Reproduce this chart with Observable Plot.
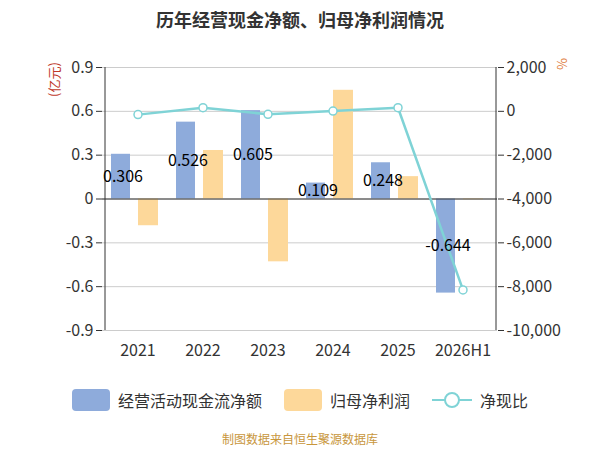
<!DOCTYPE html>
<html><head><meta charset="utf-8">
<script src="https://cdn.jsdelivr.net/npm/d3@7"></script>
<script src="https://cdn.jsdelivr.net/npm/@observablehq/plot@0.6"></script>
<style>
body{margin:0;width:600px;height:450px;background:#fff;font-family:"Noto Sans CJK SC",sans-serif;position:relative}
#title{height:50px;line-height:38px;text-align:center;font-weight:bold;font-size:18px;color:#333}
#legend{position:absolute;top:388px;left:0;width:600px;display:flex;justify-content:center;gap:22px;font-size:16px;color:#333;align-items:center}
.it{display:flex;align-items:center;gap:8px}
.sw{width:38px;height:22px;border-radius:4px}
#cap{position:absolute;top:430px;width:600px;text-align:center;font-size:12px;color:#c8963c}
#yl{position:absolute;left:36px;top:70px;color:#c0392b;font-size:13px;transform:rotate(-90deg);transform-origin:center}
#yr{position:absolute;left:553px;top:58px;color:#e07b39;font-size:13px;writing-mode:vertical-rl}
</style></head><body>
<div id="title">历年经营现金净额、归母净利润情况</div>
<div id="chart"></div>
<div id="yl">(亿元)</div><div id="yr">%</div>
<div id="legend">
 <div class="it"><div class="sw" style="background:#8eabdb"></div>经营活动现金流净额</div>
 <div class="it"><div class="sw" style="background:#fdd89a"></div>归母净利润</div>
 <div class="it"><svg width="40" height="20"><line x1="0" y1="10" x2="40" y2="10" stroke="#7fd3d6" stroke-width="2"/><circle cx="20" cy="10" r="7" fill="#fff" stroke="#7fd3d6" stroke-width="2"/></svg>净现比</div>
</div>
<div id="cap">制图数据来自恒生聚源数据库</div>
<script>
const years = ['2021','2022','2023','2024','2025','2026H1']
const cash = [0.306, 0.526, 0.605, 0.109, 0.248, -0.644]
const profit = [-0.183, 0.332, -0.43, 0.744, 0.153, -0.005]
const ratio = [-150, 165, -135, 10, 165, -8150]

const toL = d3.scaleLinear().domain([-10000, 2000]).range([-0.9, 0.9])
const rows = years.map((y, i) => ({year: y, cash: cash[i], profit: profit[i], ratio: toL(ratio[i])}))
const ticks = d3.range(-0.9, 0.91, 0.3).map(v => Math.round(v * 10) / 10)

const chart = Plot.plot({
  width: 600, height: 320,
  marginTop: 17, marginBottom: 40, marginLeft: 102, marginRight: 103,
  style: {fontFamily: '"Noto Sans CJK SC", sans-serif', fontSize: 16, color: '#333'},
  x: {domain: years, padding: 0, label: null},
  y: {domain: [-0.9, 0.9], label: null},
  marks: [
    Plot.gridY(ticks, {stroke: '#ccc', strokeOpacity: 1}),
    Plot.barY(rows, {x: 'year', y: 'cash', fill: '#8eabdb', insetLeft: 6, insetRight: 40}),
    Plot.barY(rows, {x: 'year', y: 'profit', fill: '#fdd89a', insetLeft: 33, insetRight: 12}),
    Plot.ruleY([0], {stroke: '#333'}),
    Plot.axisY({ticks, tickFormat: d => d === 0 ? '0' : d.toFixed(1), fontSize: 16, tickSize: 6}),
    Plot.axisY({ticks, anchor: 'right', tickFormat: d => d3.format(',')(Math.round(toL.invert(d))).replace('−', '-'), fontSize: 16, tickSize: 6}),
    Plot.ruleX([0], {x: () => years[0], dx: -33, y1: -0.9, y2: 0.9, stroke: '#333'}),
    Plot.ruleX([0], {x: () => years[5], dx: 33, y1: -0.9, y2: 0.9, stroke: '#333'}),
    Plot.axisX({tickSize: 0, fontSize: 16, tickPadding: 14}),
    Plot.line(rows, {x: 'year', y: 'ratio', stroke: '#7fd3d6', strokeWidth: 2.5}),
    Plot.dot(rows, {x: 'year', y: 'ratio', r: 4, fill: '#fff', stroke: '#7fd3d6', strokeWidth: 1.5}),
    Plot.text(rows, {x: 'year', y: d => d.cash / 2, text: d => String(d.cash), dx: -15, fill: '#000', fontSize: 16})
  ]
})
document.getElementById('chart').append(chart)
</script>
</body></html>
